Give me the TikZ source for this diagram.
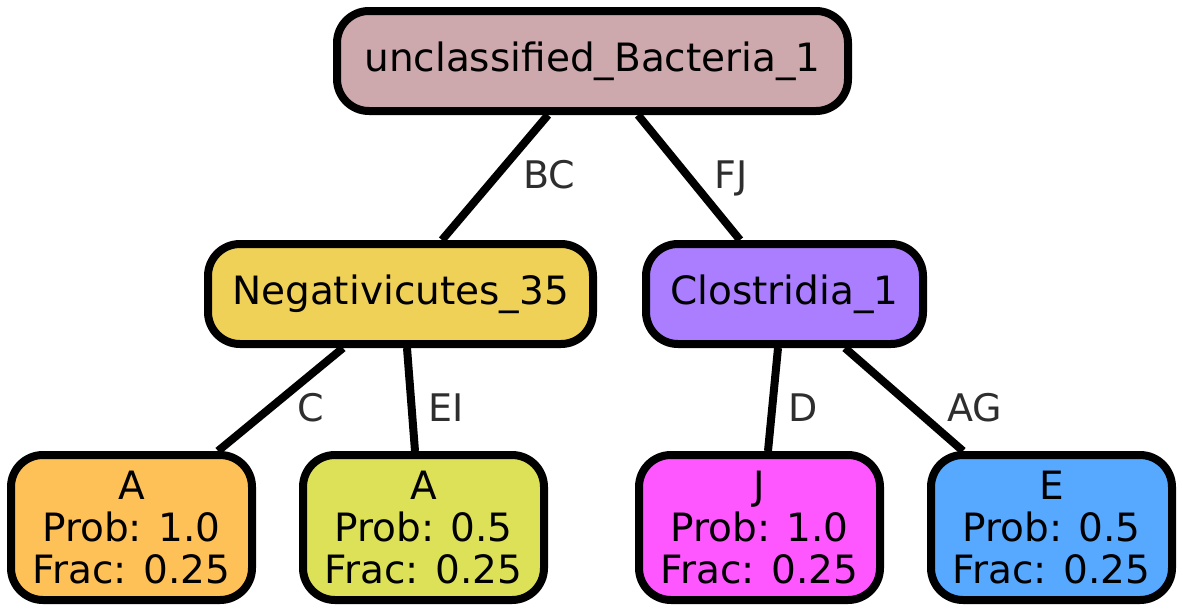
\documentclass[tikz,border=0pt]{standalone}
\usepackage{fontspec}
\setmainfont{DejaVu Sans}
\usetikzlibrary{positioning}
\definecolor{rootfill}{HTML}{CDA8AC}
\definecolor{negfill}{HTML}{EFD158}
\definecolor{closfill}{HTML}{AA7EFF}
\definecolor{leafafill}{HTML}{FEC157}
\definecolor{leafbfill}{HTML}{DDE158}
\definecolor{leafjfill}{HTML}{FF57FF}
\definecolor{leafefill}{HTML}{57A9FF}
\definecolor{labelgray}{HTML}{2E2E2E}
\tikzset{
  taxon/.style={draw=black,line width=8pt,rounded corners=32pt,align=center,inner sep=0pt,font=\fontsize{39}{42}\selectfont},
  innerbox/.style={taxon,minimum height=100pt},
  leafbox/.style={taxon,minimum width=241pt,minimum height=145pt},
  branch/.style={line width=8pt,draw=black},
  edgelabel/.style={text=labelgray,font=\fontsize{38}{42}\selectfont,inner sep=0pt,anchor=base}
}
\begin{document}
\begin{tikzpicture}[x=1pt,y=-1pt]
  \useasboundingbox (0,0) rectangle (1183,613);
  \node[taxon,fill=rootfill,minimum width=511pt,minimum height=100pt] (root) at (592.5,61) {unclassified\_Bacteria\_1};
  \node[innerbox,fill=negfill,minimum width=385pt] (nega) at (400.5,294) {Negativicutes\_35};
  \node[innerbox,fill=closfill,minimum width=277pt] (clos) at (784.5,294) {Clostridia\_1};
  \node[leafbox,fill=leafafill] (leafa) at (131.5,527.5) {A\\Prob: 1.0\\Frac: 0.25};
  \node[leafbox,fill=leafbfill] (leafb) at (423.5,527.5) {A\\Prob: 0.5\\Frac: 0.25};
  \node[leafbox,fill=leafjfill] (leafj) at (759.5,527.5) {J\\Prob: 1.0\\Frac: 0.25};
  \node[leafbox,fill=leafefill] (leafe) at (1051.5,527.5) {E\\Prob: 0.5\\Frac: 0.25};
  % tree edges
  \draw[branch] ([xshift=-44.5pt]root.south) -- ([xshift=41.5pt]nega.north);
  \draw[branch] ([xshift=45.5pt]root.south) -- ([xshift=-44.5pt]clos.north);
  \draw[branch] ([xshift=-57.5pt]nega.south) -- ([xshift=86.5pt]leafa.north);
  \draw[branch] ([xshift=6.5pt]nega.south) -- ([xshift=-8.5pt]leafb.north);
  \draw[branch] ([xshift=-6.5pt]clos.south) -- ([xshift=8.5pt]leafj.north);
  \draw[branch] ([xshift=60.5pt]clos.south) -- ([xshift=-88.5pt]leafe.north);
  % edge labels
  \node[edgelabel] (lbc) at (549,188) {BC};
  \node[edgelabel] (lfj) at (731,188) {FJ};
  \node[edgelabel] (lc) at (311,421) {C};
  \node[edgelabel] (lei) at (446,421) {EI};
  \node[edgelabel] (ld) at (803,421) {D};
  \node[edgelabel] (lag) at (975,421) {AG};
\end{tikzpicture}
\end{document}
